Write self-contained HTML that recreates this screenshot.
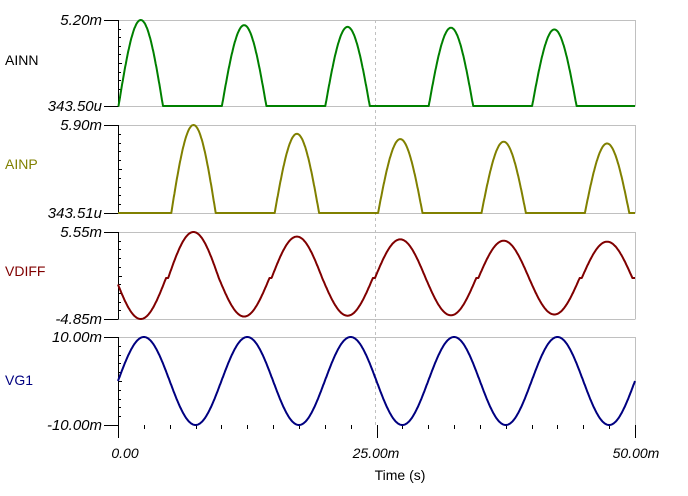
<!DOCTYPE html><html><head><style>body{margin:0;background:#fff}svg{display:block}text{font-family:"Liberation Sans",sans-serif;font-size:14px}.v{font-style:italic;text-anchor:end;font-size:15px}</style></head><body>
<svg id="s" width="688" height="496" xmlns="http://www.w3.org/2000/svg">
<g stroke="#c0c0c0" fill="none" stroke-width="1">
<path d="M118 20.5H635.5V106M118 106.5H635.5M118 125.5H635.5V213M118 213.5H635.5M118 232.5H635.5V319M118 319.5H635.5M118 337.5H635.5V425"/>
<path d="M375.5 20V425" stroke-dasharray="3,3"/>
</g>
<g id="ax" stroke="#000" stroke-width="1" fill="none"></g>
<g fill="none" stroke-width="2" stroke-linejoin="round">
<polyline id="p1" stroke="#008000"/><polyline id="p2" stroke="#808000"/><polyline id="p3" stroke="#800000"/><polyline id="p4" stroke="#000080"/>
</g>
<text class="v" x="102" y="25">5.20m</text><text class="v" x="102" y="111">343.50u</text>
<text class="v" x="102" y="130">5.90m</text><text class="v" x="102" y="218">343.51u</text>
<text class="v" x="102" y="237">5.55m</text><text class="v" x="102" y="324">-4.85m</text>
<text class="v" x="102" y="342">10.00m</text><text class="v" x="102" y="430">-10.00m</text>
<text x="5" y="65" fill="#000">AINN</text><text x="5" y="169" fill="#808000">AINP</text>
<text x="5" y="276" fill="#800000">VDIFF</text><text x="5" y="385" fill="#000080">VG1</text>
<text x="125" y="458" font-style="italic" text-anchor="middle" font-size="15">0.00</text>
<text x="376" y="458" font-style="italic" text-anchor="middle" font-size="15">25.00m</text>
<text x="636" y="458" font-style="italic" text-anchor="middle" font-size="15">50.00m</text>
<text x="400" y="480" text-anchor="middle">Time (s)</text>
</svg>
<script>
var X0=118,X1=635,sx=(X1-X0)/50;
function pulse(t,c0,amps,h){for(var k=0;k<5;k++){var d=t-(c0+10*k);if(Math.abs(d)<h)return amps[k]*Math.cos(Math.PI*d/(2*h));}return 0;}
var a1=[1,.94,.92,.91,.89],a2=[1,.9,.84,.81,.79];
var P=[[],[],[],[]];
for(var i=0;i<=1000;i++){var t=i*0.05,x=(X0+t*sx).toFixed(1);
var n=pulse(t,2.2,a1,2.15),p=pulse(t,7.3,a2,2.15);
var n2=pulse(t,2.2,a1,2.45),p2=pulse(t,7.3,a2,2.45);
P[0].push(x+","+(106-n*86).toFixed(1));
P[1].push(x+","+(213-p*88).toFixed(1));
P[2].push(x+","+(278-p2*46+n2*41).toFixed(1));
P[3].push(x+","+(381-44*Math.sin(2*Math.PI*t/10)).toFixed(1));}
for(var j=0;j<4;j++)document.getElementById("p"+(j+1)).setAttribute("points",P[j].join(" "));
var d="";var pan=[[20,106],[125,213],[232,319],[337,425]];
pan.forEach(function(q){d+="M118.5 "+q[0]+"V"+(q[1]+0.5)+"M104 "+(q[0]+.5)+"H118M104 "+(q[1]+.5)+"H118";
for(var k=1;k<10;k++){var y=Math.round(q[0]+(q[1]-q[0])*k/10)+.5;d+="M118 "+y+"H"+(k==5?122:121);}});
d+="M118.5 425V438";for(var k=1;k<=20;k++){var x=Math.round(X0+k*(X1-X0)/20)+.5;d+="M"+x+" 425V"+(k%10==0?438:429);}
var ax=document.getElementById("ax"),pa=document.createElementNS("http://www.w3.org/2000/svg","path");pa.setAttribute("d",d);ax.appendChild(pa);
</script></body></html>
